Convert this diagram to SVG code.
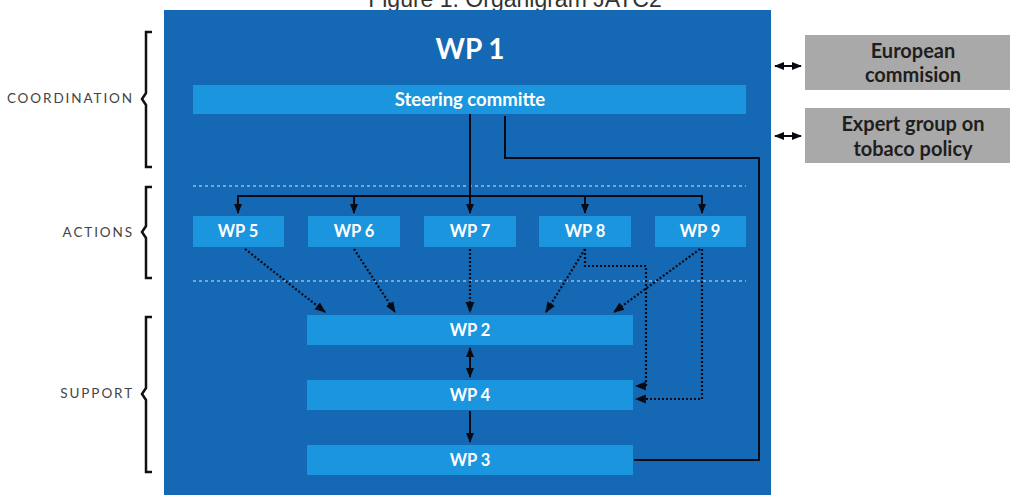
<svg xmlns="http://www.w3.org/2000/svg" width="1010" height="495" viewBox="0 0 1010 495">
<style>
.bar{fill:#1b96de}
.lbl{font-family:"Lato","Liberation Sans",sans-serif;font-weight:bold;fill:#ffffff;text-anchor:middle}
.side{font-family:"Lato","Liberation Sans",sans-serif;font-size:13.5px;letter-spacing:1.9px;fill:#444;text-anchor:end}
.gray{fill:#a9a9a9}
.glbl{font-family:"Lato","Liberation Sans",sans-serif;font-weight:bold;font-size:20px;fill:#1e1e1e;text-anchor:middle}
.solid{fill:none;stroke:#0a0a14;stroke-width:2}
.dot{fill:none;stroke:#0a0a14;stroke-width:2.2;stroke-dasharray:2 2}
.sep{fill:none;stroke:#cfe4f7;stroke-width:1;stroke-dasharray:3 3}
.brace{fill:none;stroke:#111;stroke-width:2.5}
</style>
<defs>
<marker id="ah" viewBox="0 0 10 10" refX="9" refY="5" markerWidth="5" markerHeight="5" orient="auto-start-reverse" markerUnits="strokeWidth">
<path d="M0,1 L10,5 L0,9 z" fill="#0a0a14"/>
</marker>
</defs>
<rect width="1010" height="495" fill="#ffffff"/>
<text x="515" y="7" font-family="Liberation Sans, Arial, sans-serif" font-size="23" fill="#333" text-anchor="middle">Figure 1. Organigram JATC2</text>
<rect id="panel" x="164" y="10" width="607" height="485" fill="#1568b3"/>
<text x="470" y="59" class="lbl" font-size="28">WP 1</text>
<line class="sep" x1="193" y1="186" x2="746" y2="186"/>
<line class="sep" x1="193" y1="281" x2="746" y2="281"/>
<g id="side-labels">
<path class="brace" d="M152,32 H146 V93 L142,99 L146,105 V167 H152"/>
<text class="side" x="134" y="103">COORDINATION</text>
<path class="brace" d="M152,187 H146 V226 L142,232 L146,238 V278 H152"/>
<text class="side" x="134" y="237">ACTIONS</text>
<path class="brace" d="M152,317 H146 V388 L142,394 L146,400 V472 H152"/>
<text class="side" x="134" y="398">SUPPORT</text>
</g>
<g id="steering"><rect class="bar" x="193" y="85" width="553" height="29"/><text class="lbl" x="470" y="106" font-size="18.5">Steering committe</text></g>
<g id="wp5"><rect class="bar" x="193" y="216" width="91" height="31"/><text class="lbl" x="238" y="237" font-size="16.5">WP 5</text></g>
<g id="wp6"><rect class="bar" x="308" y="216" width="92" height="31"/><text class="lbl" x="354" y="237" font-size="16.5">WP 6</text></g>
<g id="wp7"><rect class="bar" x="424" y="216" width="92" height="31"/><text class="lbl" x="470" y="237" font-size="16.5">WP 7</text></g>
<g id="wp8"><rect class="bar" x="539" y="216" width="92" height="31"/><text class="lbl" x="585" y="237" font-size="16.5">WP 8</text></g>
<g id="wp9"><rect class="bar" x="655" y="216" width="91" height="31"/><text class="lbl" x="700" y="237" font-size="16.5">WP 9</text></g>
<g id="wp2"><rect class="bar" x="307" y="315" width="326" height="30"/><text class="lbl" x="470" y="336" font-size="16.5">WP 2</text></g>
<g id="wp4"><rect class="bar" x="307" y="380" width="326" height="30"/><text class="lbl" x="470" y="401" font-size="16.5">WP 4</text></g>
<g id="wp3"><rect class="bar" x="307" y="445" width="326" height="30"/><text class="lbl" x="470" y="466" font-size="16.5">WP 3</text></g>
<g id="ec"><rect class="gray" x="805" y="35" width="205" height="55"/><text class="glbl" x="913" y="58">European</text><text class="glbl" x="913" y="82">commision</text></g>
<g id="eg"><rect class="gray" x="805" y="108" width="205" height="55"/><text class="glbl" x="913" y="131">Expert group on</text><text class="glbl" x="913" y="156">tobaco policy</text></g>
<g id="connectors">
<line class="solid" x1="470" y1="114" x2="470" y2="196"/>
<path class="solid" d="M238,213 V196 H702 V213" marker-start="url(#ah)" marker-end="url(#ah)"/>
<line class="solid" x1="354" y1="196" x2="354" y2="213" marker-end="url(#ah)"/>
<line class="solid" x1="470" y1="196" x2="470" y2="213" marker-end="url(#ah)"/>
<line class="solid" x1="585" y1="196" x2="585" y2="213" marker-end="url(#ah)"/>
<path class="solid" d="M505,116 V158 H759 V460 H634"/>
<line class="dot" x1="245" y1="249" x2="325" y2="312" marker-end="url(#ah)"/>
<line class="dot" x1="354" y1="249" x2="395" y2="312" marker-end="url(#ah)"/>
<line class="dot" x1="470" y1="249" x2="470" y2="312" marker-end="url(#ah)"/>
<line class="dot" x1="585" y1="249" x2="546" y2="312" marker-end="url(#ah)"/>
<line class="dot" x1="700" y1="249" x2="614" y2="312" marker-end="url(#ah)"/>
<path class="dot" d="M585,249 V266 H646 V386 H636" marker-end="url(#ah)"/>
<path class="dot" d="M702,249 V399 H636" marker-end="url(#ah)"/>
<line class="solid" x1="470" y1="348" x2="470" y2="377" marker-start="url(#ah)" marker-end="url(#ah)"/>
<line class="solid" x1="470" y1="411" x2="470" y2="442" marker-end="url(#ah)"/>
<line class="solid" x1="775" y1="66" x2="801" y2="66" marker-start="url(#ah)" marker-end="url(#ah)"/>
<line class="solid" x1="775" y1="136" x2="801" y2="136" marker-start="url(#ah)" marker-end="url(#ah)"/>
</g>
</svg>
